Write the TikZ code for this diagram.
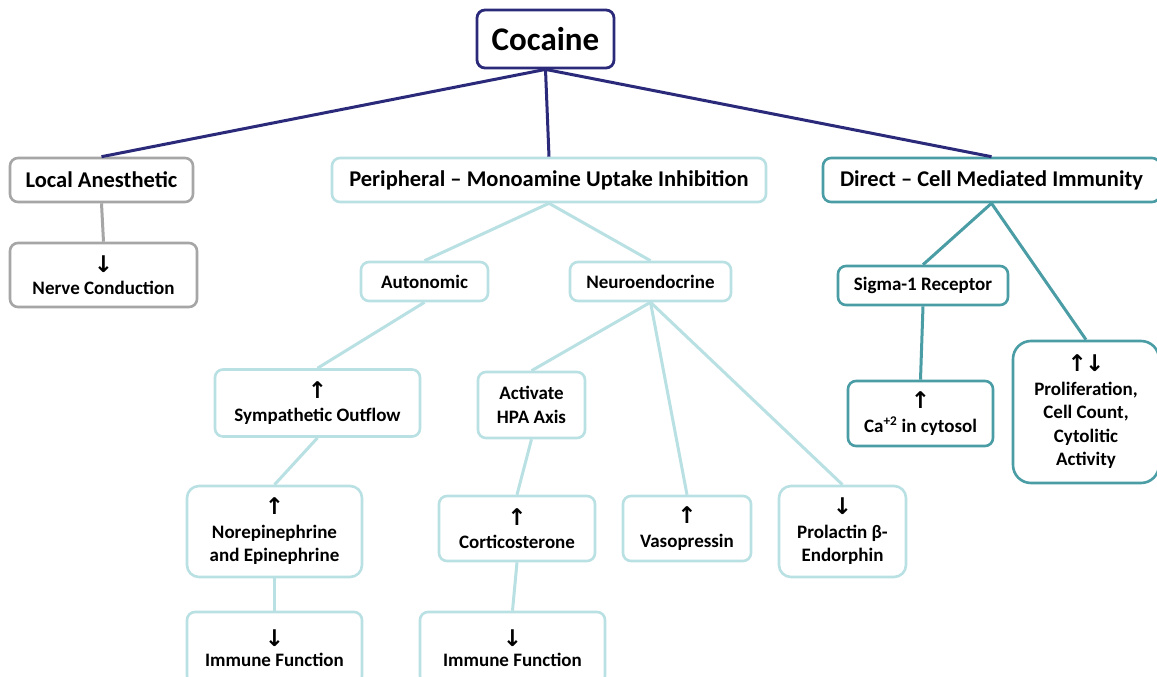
\documentclass[tikz,border=0pt]{standalone}
\usepackage{fontspec}
\setmainfont{Carlito}
\newfontfamily\arrowfont{DejaVu Sans}
\definecolor{navyc}{HTML}{2B2A7A}
\definecolor{grayc}{HTML}{A6A6A6}
\definecolor{lightc}{HTML}{B9E0E3}
\definecolor{tealc}{HTML}{4A9DA5}
\newcommand{\upar}{{\arrowfont\bfseries\fontsize{23}{23.5}\selectfont ↑}}
\newcommand{\dnar}{{\arrowfont\bfseries\fontsize{23}{23.5}\selectfont ↓}}
\tikzset{
  basebox/.style={draw, rounded corners=8pt, line width=2.6pt, fill=white, align=center,
    inner sep=0pt, font=\bfseries\fontsize{19}{23.5}\selectfont},
  navybox/.style={basebox, draw=navyc, line width=2.8pt, font=\bfseries\fontsize{33}{36}\selectfont},
  graybox/.style={basebox, draw=grayc},
  lightbox/.style={basebox, draw=lightc},
  tealbox/.style={basebox, draw=tealc},
  bigtext/.style={font=\bfseries\fontsize{22.5}{26}\selectfont},
  navyline/.style={draw=navyc, line width=3pt},
  grayline/.style={draw=grayc, line width=3pt},
  lightline/.style={draw=lightc, line width=3pt},
  tealline/.style={draw=tealc, line width=3pt},
}
\begin{document}
\begin{tikzpicture}[x=1pt,y=-1pt]
\clip (0,0) rectangle (1157,677);
\fill[white] (0,0) rectangle (1157,677);
% nodes
\node[navybox, minimum width=137pt, minimum height=58pt] (cocaine) at (545.5,39) {Cocaine};
\node[graybox, bigtext, minimum width=183pt, minimum height=44pt] (local) at (101.5,180) {Local Anesthetic};
\node[graybox, minimum width=187pt, minimum height=64pt] (nerve) at (103.5,275) {\raisebox{0pt}{\dnar}\\[-1.5pt]Nerve Conduction};
\node[lightbox, bigtext, minimum width=434pt, minimum height=44pt] (periph) at (549,180) {Peripheral – Monoamine Uptake Inhibition};
\node[tealbox, bigtext, minimum width=337pt, minimum height=44pt] (direct) at (991.5,180) {Direct – Cell Mediated Immunity};
\node[lightbox, minimum width=127pt, minimum height=39pt] (auton) at (424.5,281.5) {Autonomic};
\node[lightbox, minimum width=161pt, minimum height=39pt] (neuro) at (650.5,281.5) {Neuroendocrine};
\node[lightbox, minimum width=205pt, minimum height=67pt] (sympa) at (317.5,403) {\upar\\Sympathetic Outflow};
\node[lightbox, minimum width=107pt, minimum height=66pt] (hpa) at (531.5,405) {Activate\\HPA Axis};
\node[lightbox, rounded corners=12pt, minimum width=175pt, minimum height=91pt] (norep) at (274.5,531.5) {\upar\\Norepinephrine\\and Epinephrine};
\node[lightbox, minimum width=156pt, minimum height=65pt] (cort) at (517,528.5) {\upar\\Corticosterone};
\node[lightbox, minimum width=128pt, minimum height=65pt] (vaso) at (687,528.5) {\upar\\Vasopressin};
\node[lightbox, rounded corners=12pt, minimum width=127pt, minimum height=91pt] (prol) at (842.5,531.5) {\dnar\\Prolactin β-\\Endorphin};
\node[lightbox, minimum width=175pt, minimum height=72pt] (imm1) at (274.5,648) {\dnar\\[-3pt]Immune Function};
\node[lightbox, minimum width=185pt, minimum height=72pt] (imm2) at (512.5,648) {\dnar\\[-3pt]Immune Function};
\node[tealbox, minimum width=170pt, minimum height=39pt] (sigma) at (923,285.5) {Sigma-1 Receptor};
\node[tealbox, minimum width=145pt, minimum height=65pt] (ca) at (920.5,413.5) {\upar\\Ca\textsuperscript{+2} in cytosol};
\node[tealbox, rounded corners=18pt, minimum width=146pt, minimum height=142pt] (prolif) at (1086,412) {\upar\kern-2pt\dnar\\Proliferation,\\Cell Count,\\Cytolitic\\Activity};
% connectors
\draw[navyline] (cocaine.south) -- (local.north);
\draw[navyline] (cocaine.south) -- (periph.north);
\draw[navyline] (cocaine.south) -- (direct.north);
\draw[grayline] (local.south) -- (nerve.north);
\draw[lightline] (periph.south) -- (auton.north);
\draw[lightline] (periph.south) -- (neuro.north);
\draw[lightline] (auton.south) -- (sympa.north);
\draw[lightline] (sympa.south) -- (norep.north);
\draw[lightline] (norep.south) -- (imm1.north);
\draw[lightline] (neuro.south) -- (hpa.north);
\draw[lightline] (neuro.south) -- (vaso.north);
\draw[lightline] (neuro.south) -- (prol.north);
\draw[lightline] (hpa.south) -- (cort.north);
\draw[lightline] (cort.south) -- (imm2.north);
\draw[tealline] (direct.south) -- (sigma.north);
\draw[tealline] (direct.south) -- (prolif.north);
\draw[tealline] (sigma.south) -- (ca.north);
\end{tikzpicture}
\end{document}
